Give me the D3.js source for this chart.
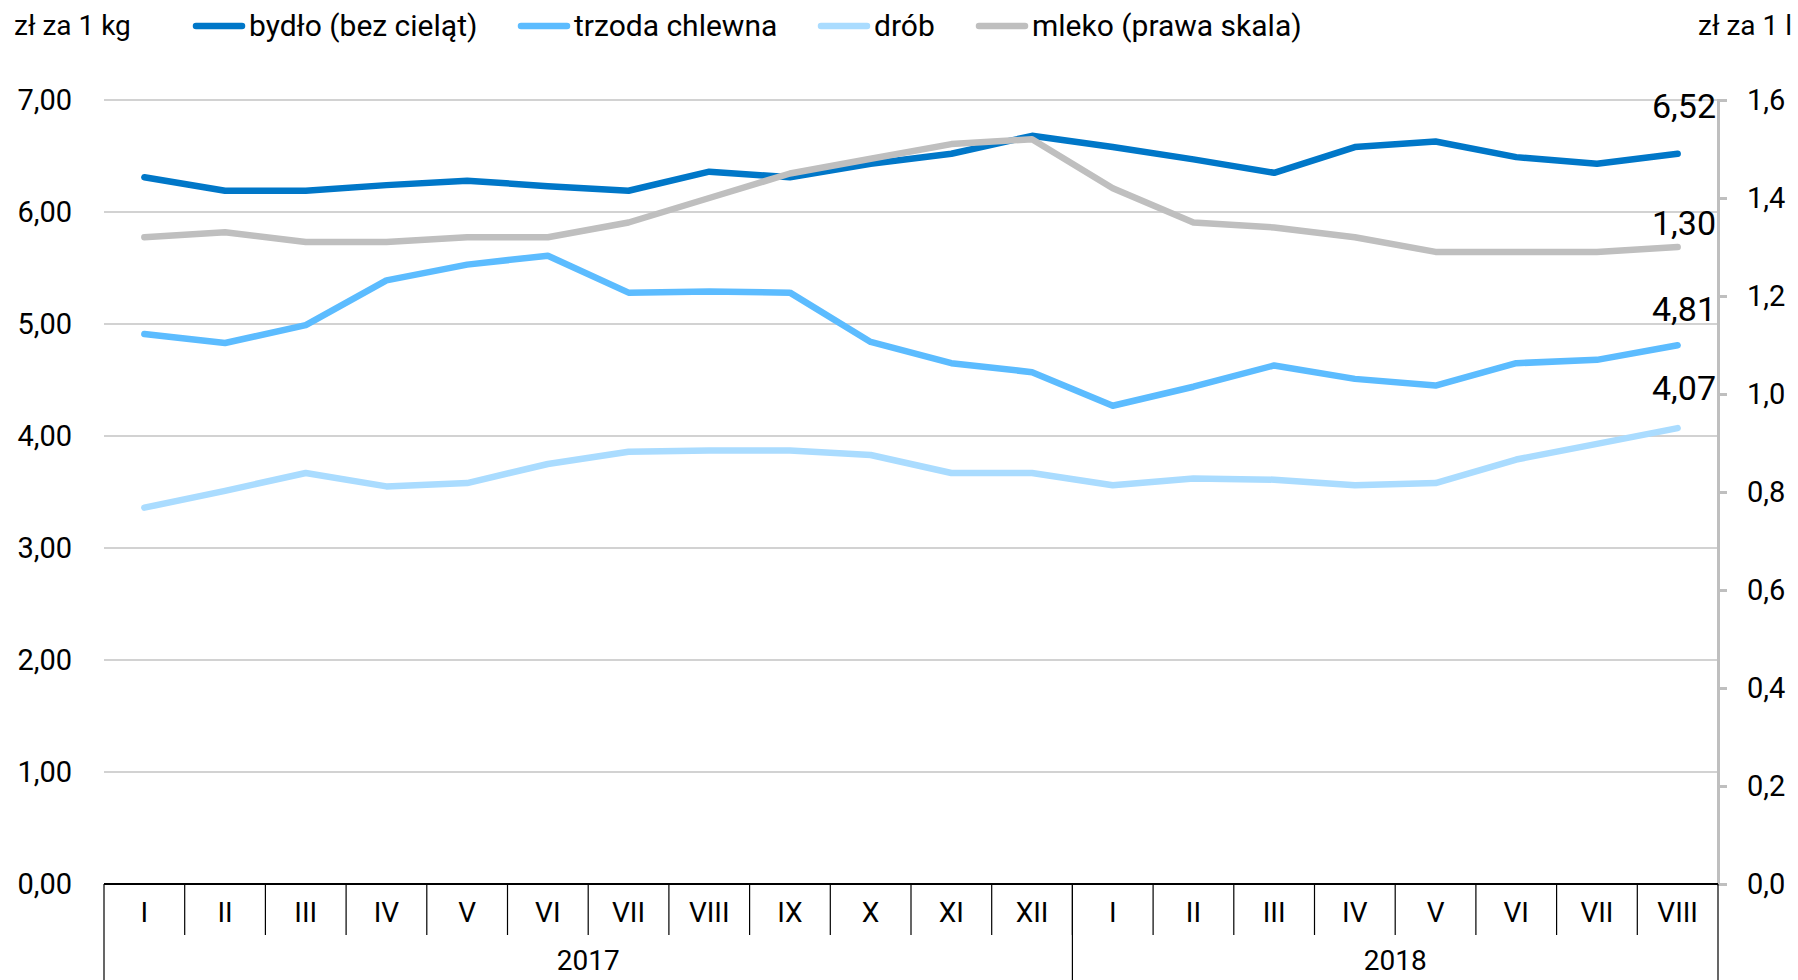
<!DOCTYPE html>
<html>
<head>
<meta charset="utf-8">
<script src="https://cdn.jsdelivr.net/npm/d3@7"></script>
<style>
  body { margin: 0; background: #fff; }
  svg text { font-family: Roboto, "Noto Sans", sans-serif; fill: #000; }
</style>
</head>
<body>
<svg id="chart" width="1798" height="980"></svg>
<script>
// months of 2017 (I-XII) and 2018 (I-VIII)
const months = ["I","II","III","IV","V","VI","VII","VIII","IX","X","XI","XII",
                "I","II","III","IV","V","VI","VII","VIII"];
const yearLabels = ["2017", "2018"];
const monthsPerYear = [12, 8];

// zł za 1 kg (left scale)
const bydlo  = [6.31,6.19,6.19,6.24,6.28,6.23,6.19,6.36,6.31,6.43,6.52,6.68,6.58,6.47,6.35,6.58,6.63,6.49,6.43,6.52];
const trzoda = [4.91,4.83,4.99,5.39,5.53,5.61,5.28,5.29,5.28,4.84,4.65,4.57,4.27,4.44,4.63,4.51,4.45,4.65,4.68,4.81];
const drob   = [3.36,3.51,3.67,3.55,3.58,3.75,3.86,3.87,3.87,3.83,3.67,3.67,3.56,3.62,3.61,3.56,3.58,3.79,3.93,4.07];
// zł za 1 l (right scale)
const mleko  = [1.32,1.33,1.31,1.31,1.32,1.32,1.35,1.40,1.45,1.48,1.51,1.52,1.42,1.35,1.34,1.32,1.29,1.29,1.29,1.30];

const leftTicks = [0,1,2,3,4,5,6,7];
const rightTicks = [0,0.2,0.4,0.6,0.8,1.0,1.2,1.4,1.6];

const series = [
  {name: "bydło (bez cieląt)", values: bydlo,  color: "#0077c8", axis: "left",  labelDy: -36},
  {name: "trzoda chlewna",     values: trzoda, color: "#5cbcff", axis: "left",  labelDy: -24},
  {name: "drób",               values: drob,   color: "#aadcff", axis: "left",  labelDy: -28},
  {name: "mleko (prawa skala)",values: mleko,  color: "#bfbfbf", axis: "right", labelDy: -12}
];

const svg = d3.select("#chart");
const margin = {top: 100, right: 80, bottom: 96, left: 104};
const width = 1798 - margin.left - margin.right,
      height = 980 - margin.top - margin.bottom;

const g = svg.append("g").attr("transform", "translate(" + margin.left + "," + margin.top + ")");

const keys = months.map((m, i) => i);
const x = d3.scaleBand().domain(keys).range([0, width]);
const y = d3.scaleLinear().domain([0, 7]).range([height, 0]);
const y2 = d3.scaleLinear().domain([0, 1.6]).range([height, 0]);
const comma = d => d.toFixed(2).replace(".", ",");
const comma1 = d => d.toFixed(1).replace(".", ",");

// gridlines
g.append("g").selectAll("line").data(leftTicks.filter(d => d > 0)).enter().append("line")
  .attr("x1", 0).attr("x2", width).attr("y1", d => y(d)).attr("y2", d => y(d))
  .attr("stroke", "#a6a6a6").attr("stroke-width", 1.2);

// left axis labels
const yAxis = g.append("g").attr("transform", "translate(-29,0)")
  .call(d3.axisLeft(y).tickValues(leftTicks).tickFormat(comma).tickSize(0));
yAxis.select(".domain").remove();
yAxis.selectAll("text").attr("font-size", 29).attr("font-family", "Roboto").attr("fill", "#000");

// right axis
const y2Axis = g.append("g").attr("transform", "translate(" + width + ",0)")
  .call(d3.axisRight(y2).tickValues(rightTicks).tickFormat(comma1).tickSize(9).tickPadding(20));
y2Axis.select(".domain").attr("stroke", "#bfbfbf").attr("stroke-width", 3);
y2Axis.selectAll(".tick line").attr("stroke", "#bfbfbf").attr("stroke-width", 3);
y2Axis.selectAll("text").attr("font-size", 29).attr("font-family", "Roboto").attr("fill", "#000");

// lines
const line = axisScale => d3.line().x((d, i) => x(i) + x.bandwidth() / 2).y(d => axisScale(d));
series.forEach(s => {
  const sc = s.axis === "left" ? y : y2;
  g.append("path").datum(s.values)
    .attr("fill", "none").attr("stroke", s.color).attr("stroke-width", 6.5)
    .attr("stroke-linecap", "round").attr("stroke-linejoin", "round")
    .attr("d", line(sc));
});

// end labels
series.forEach(s => {
  const sc = s.axis === "left" ? y : y2;
  const last = s.values[s.values.length - 1];
  g.append("text")
    .attr("x", width - 2).attr("y", sc(last) + s.labelDy)
    .attr("text-anchor", "end").attr("font-size", 34)
    .text(comma(last));
});

// category axis
const xa = g.append("g").attr("transform", "translate(0," + height + ")");
xa.append("line").attr("x1", 0).attr("x2", width).attr("stroke", "#000").attr("stroke-width", 2);
xa.selectAll(".mtick").data(keys.slice(1)).enter().append("line")
  .attr("x1", d => x(d)).attr("x2", d => x(d)).attr("y1", 0).attr("y2", 51)
  .attr("stroke", "#000").attr("stroke-width", 1.2);
xa.selectAll(".mlab").data(keys).enter().append("text")
  .attr("x", d => x(d) + x.bandwidth() / 2).attr("y", 31)
  .attr("text-anchor", "middle").attr("dominant-baseline", "middle").attr("font-size", 28)
  .text(d => months[d]);

// year groups
let start = 0;
const yearBounds = monthsPerYear.map((n, i) => { const b = {label: yearLabels[i], from: start, to: start + n}; start += n; return b; });
const edge = i => i >= keys.length ? width : x(i);
xa.selectAll(".ysep").data([0].concat(yearBounds.map(b => b.to))).enter().append("line")
  .attr("x1", d => edge(d)).attr("x2", d => edge(d)).attr("y1", 0).attr("y2", 96)
  .attr("stroke", "#000").attr("stroke-width", 1.2);
xa.selectAll(".ylab").data(yearBounds).enter().append("text")
  .attr("x", b => (edge(b.from) + edge(b.to)) / 2).attr("y", 79)
  .attr("text-anchor", "middle").attr("dominant-baseline", "middle").attr("font-size", 28)
  .text(b => b.label);

// titles
svg.append("text").attr("x", 14).attr("y", 28).attr("dominant-baseline", "middle")
  .attr("font-size", 28).text("zł za 1 kg");
svg.append("text").attr("x", 1698).attr("y", 28).attr("dominant-baseline", "middle")
  .attr("font-size", 28).text("zł za 1 l");

// legend
const legendX = [193, 518, 818, 976];
series.forEach((s, i) => {
  const lg = svg.append("g").attr("transform", "translate(" + legendX[i] + ",26)");
  lg.append("line").attr("x1", 3).attr("x2", 49).attr("stroke", s.color)
    .attr("stroke-width", 6.5).attr("stroke-linecap", "round");
  lg.append("text").attr("x", 56).attr("y", 2).attr("dominant-baseline", "middle")
    .attr("font-size", 30).text(s.name);
});
</script>
</body>
</html>
